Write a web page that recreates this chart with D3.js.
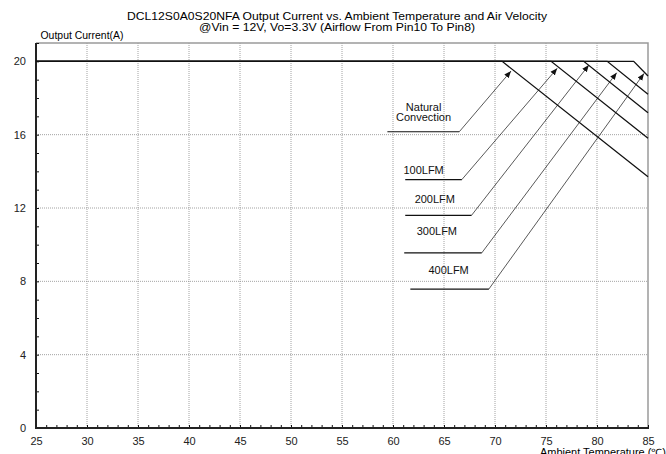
<!DOCTYPE html>
<html>
<head>
<meta charset="utf-8">
<script src="https://cdn.jsdelivr.net/npm/d3@7"></script>
<style>
  body { margin: 0; background: #fff; }
  svg { display: block; font-family: "Liberation Sans", Arial, sans-serif; }
  .tick text { font-size: 11px; fill: #222; }
</style>
</head>
<body>
<div class="chart"></div>
<script>
// data
var xTicks = [25, 30, 35, 40, 45, 50, 55, 60, 65, 70, 75, 80, 85];
var yTicks = [0, 4, 8, 12, 16, 20];
var seriesNames = ["Natural Convection", "100LFM", "200LFM", "300LFM", "400LFM"];
var seriesTemps = [
  [25, 70.7, 85],
  [25, 75.5, 85],
  [25, 78.7, 85],
  [25, 81.0, 85],
  [25, 83.6, 85]
];
var seriesCurrent = [
  [20, 20, 13.7],
  [20, 20, 15.8],
  [20, 20, 17.2],
  [20, 20, 18.2],
  [20, 20, 19.2]
];
// label lines (in data units): text lines, first baseline, underline, arrow tip
var labelLines = [["Natural", "Convection"], ["100LFM"], ["200LFM"], ["300LFM"], ["400LFM"]];
var labelTextAt = [[63.0, 17.3], [63.0, 13.88], [64.1, 12.3], [64.3, 10.55], [65.45, 8.42]];
var underlineFrom = [59.45, 61.2, 61.2, 61.1, 61.7];
var underlineTo = [66.5, 66.75, 67.7, 68.7, 69.4];
var underlineAt = [16.16, 13.55, 11.6, 9.55, 7.58];
var arrowTip = [[71.57, 19.47], [76.1, 19.62], [79.2, 19.8], [81.93, 19.38], [84.61, 19.34]];

var svgWidth = 666;
var svgHeight = 454;
var margin = {top: 43, right: 18, bottom: 26, left: 36};
var width = svgWidth - margin.left - margin.right;
var height = svgHeight - margin.top - margin.bottom;

var svg = d3.select('.chart').append('svg')
  .attr('width', svgWidth).attr('height', svgHeight);

var chart = svg.append('g').attr('transform', `translate(${margin.left}, ${margin.top})`);

var xScale = d3.scaleLinear().domain([25, 85]).range([0, width]);
var yScale = d3.scaleLinear().domain([0, 21]).range([height, 0]);

// titles
svg.append('text').attr('x', 337).attr('y', 20).attr('text-anchor', 'middle')
  .attr('font-size', 10.5).attr('textLength', 420).attr('lengthAdjust', 'spacingAndGlyphs')
  .text('DCL12S0A0S20NFA Output Current vs. Ambient Temperature and Air Velocity');
svg.append('text').attr('x', 337).attr('y', 31).attr('text-anchor', 'middle')
  .attr('font-size', 10.5).attr('textLength', 276).attr('lengthAdjust', 'spacingAndGlyphs')
  .text('@Vin = 12V, Vo=3.3V (Airflow From Pin10 To Pin8)');
svg.append('text').attr('x', 40.5).attr('y', 38.5)
  .attr('font-size', 10).attr('textLength', 83).attr('lengthAdjust', 'spacingAndGlyphs')
  .text('Output Current(A)');
svg.append('text').attr('x', 666).attr('y', 455.5).attr('text-anchor', 'end')
  .attr('font-size', 10).attr('textLength', 126).attr('lengthAdjust', 'spacingAndGlyphs')
  .text('Ambient Temperature (℃)');

// grid
chart.append('g').selectAll('line').data(xTicks.filter(function(d){ return d > 25 && d < 85; }))
  .enter().append('line')
  .attr('x1', function(d){ return xScale(d); }).attr('x2', function(d){ return xScale(d); })
  .attr('y1', yScale(0)).attr('y2', yScale(21))
  .attr('stroke', '#8c8c8c').attr('stroke-width', 0.8).attr('stroke-dasharray', '1,1');
chart.append('g').selectAll('line').data(yTicks.filter(function(d){ return d > 0 && d < 20; }))
  .enter().append('line')
  .attr('y1', function(d){ return yScale(d); }).attr('y2', function(d){ return yScale(d); })
  .attr('x1', 0).attr('x2', width)
  .attr('stroke', '#8c8c8c').attr('stroke-width', 0.8).attr('stroke-dasharray', '1,1');

// frame top / right
chart.append('path')
  .attr('d', `M0,${yScale(21)}H${xScale(85)}V${yScale(0)}`)
  .attr('fill', 'none').attr('stroke', '#9a9a9a').attr('stroke-width', 1.5);

// axes
var xAxis = d3.axisBottom(xScale).tickValues(d3.range(25, 86, 1))
  .tickFormat(function(d){ return d % 5 === 0 ? d : ''; })
  .tickSizeInner(-3).tickSizeOuter(0).tickPadding(9);
var yAxis = d3.axisLeft(yScale).tickValues(d3.range(0, 22, 1))
  .tickFormat(function(d){ return d % 4 === 0 ? d : ''; })
  .tickSizeInner(-3).tickSizeOuter(0).tickPadding(10);

var gx = chart.append('g').attr('class', 'x-axis').attr('transform', `translate(0, ${height})`).call(xAxis);
var gy = chart.append('g').attr('class', 'y-axis').call(yAxis);
gx.select('.domain').remove();
gy.select('.domain').remove();
gx.selectAll('.tick line').attr('stroke', '#111');
gy.selectAll('.tick line').attr('stroke', '#111');
gx.selectAll('.tick text').attr('font-family', null);
gy.selectAll('.tick text').attr('font-family', null);

chart.append('line').attr('x1', 0).attr('x2', 0).attr('y1', yScale(21)).attr('y2', yScale(0) + 1)
  .attr('stroke', '#222').attr('stroke-width', 2);
chart.append('line').attr('x1', 0).attr('x2', xScale(85) + 1).attr('y1', yScale(0)).attr('y2', yScale(0))
  .attr('stroke', '#222').attr('stroke-width', 2);

// derating curves
var line = d3.line()
  .x(function(d){ return xScale(d[0]); })
  .y(function(d){ return yScale(d[1]); });

seriesNames.forEach(function(name, i){
  var pts = seriesTemps[i].map(function(t, j){ return [t, seriesCurrent[i][j]]; });
  chart.append('path').datum(pts).attr('d', line)
    .attr('fill', 'none').attr('stroke', '#111').attr('stroke-width', 1.3);
});

// labels with leader arrows
svg.append('defs').append('marker')
  .attr('id', 'arrow').attr('viewBox', '0 0 10 10').attr('refX', 10).attr('refY', 5)
  .attr('markerWidth', 7).attr('markerHeight', 7).attr('markerUnits', 'userSpaceOnUse')
  .attr('orient', 'auto')
  .append('path').attr('d', 'M0,1L10,5L0,9Z').attr('fill', '#111');

seriesNames.forEach(function(name, i){
  chart.append('line')
    .attr('x1', xScale(underlineFrom[i])).attr('x2', xScale(underlineTo[i]))
    .attr('y1', yScale(underlineAt[i])).attr('y2', yScale(underlineAt[i]))
    .attr('stroke', '#111').attr('stroke-width', 1.2);
  chart.append('line')
    .attr('x1', xScale(underlineTo[i])).attr('y1', yScale(underlineAt[i]))
    .attr('x2', xScale(arrowTip[i][0])).attr('y2', yScale(arrowTip[i][1]))
    .attr('stroke', '#111').attr('stroke-width', 0.7)
    .attr('marker-end', 'url(#arrow)');
  labelLines[i].forEach(function(txt, k){
    chart.append('text')
      .attr('x', xScale(labelTextAt[i][0]))
      .attr('y', yScale(labelTextAt[i][1]) + k * 10.5)
      .attr('text-anchor', 'middle').attr('font-size', 11).attr('fill', '#111')
      .text(txt);
  });
});
</script>
</body>
</html>
